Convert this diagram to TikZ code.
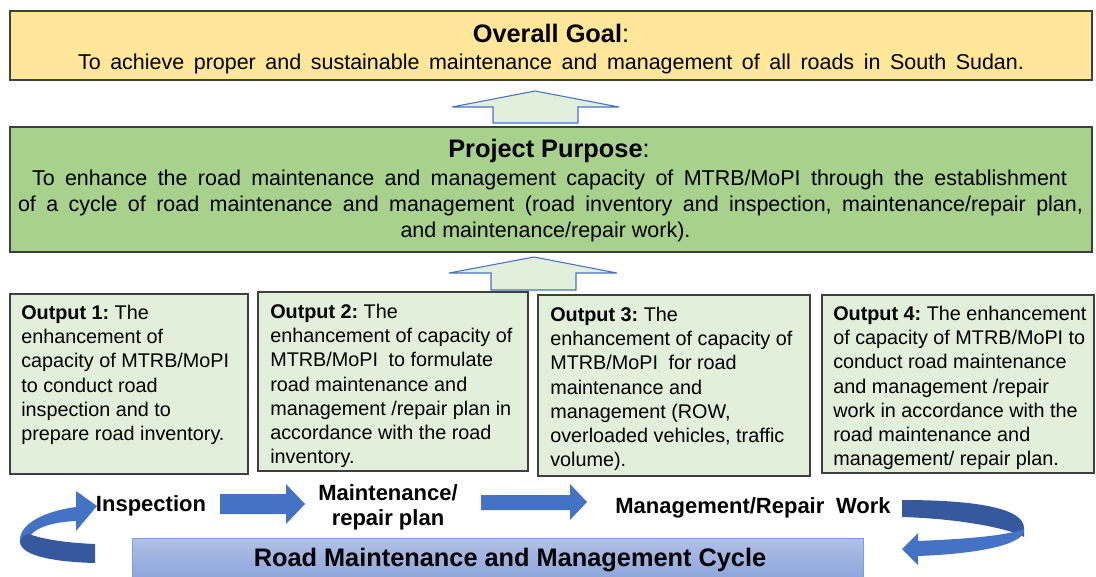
\documentclass[tikz,border=0pt]{standalone}
\usepackage{fontspec}
\setmainfont{Liberation Sans}
\frenchspacing
\definecolor{goalfill}{HTML}{FFE699}
\definecolor{purposefill}{HTML}{A9D18E}
\definecolor{outputfill}{HTML}{E2EFDA}
\definecolor{boxline}{HTML}{3F3F3F}
\definecolor{cycleblue}{HTML}{4472C4}
\definecolor{cycledark}{HTML}{35599C}
\definecolor{bartop}{HTML}{B1C1E7}
\definecolor{barbottom}{HTML}{8BA4DA}
\definecolor{barline}{HTML}{7F9ED8}
\tikzset{
  panel/.style={draw=boxline, line width=1.1pt, inner sep=0pt},
  outtext/.style={anchor=north west, inner sep=0pt, align=left,
    font=\fontsize{14.85pt}{18.2pt}\selectfont},
  bodyline/.style={anchor=base, inner sep=0pt, font=\fontsize{16.1pt}{19pt}\selectfont},
  titleline/.style={anchor=base, inner sep=0pt, font=\fontsize{19pt}{23pt}\selectfont},
  steplabel/.style={anchor=base, inner sep=0pt, align=center,
    font=\fontsize{16.5pt}{18.75pt}\selectfont\bfseries},
  uparrow/.style={fill=outputfill, draw=cycleblue, line width=0.8pt, line join=miter},
  flatarrow/.style={fill=cycleblue},
}
\begin{document}
\frenchspacing
\begin{tikzpicture}[x=0.75pt,y=-0.75pt]
\useasboundingbox (0,0) rectangle (1096,576);

% ---- overall goal ----
\node[panel, fill=goalfill, minimum width=811.5pt, minimum height=51.75pt] (goal) at (551,45.5) {};
\node[titleline] (goaltitle) at (551,42) {\textbf{Overall Goal}:};
\node[bodyline] (goaltext) at (551,69)
  {\makebox[709.5pt][s]{To achieve proper and sustainable maintenance and management of all roads in South Sudan.}};

% ---- arrow from purpose to goal ----
\draw[uparrow] (493,123) -- (493,107) -- (452,107) -- (535,91) -- (619,107) -- (578,107) -- (578,123) -- cycle;

% ---- project purpose ----
\node[panel, fill=purposefill, minimum width=811.5pt, minimum height=93.75pt] (purpose) at (551,189.5) {};
\node[titleline] (purposetitle) at (549,157) {\textbf{Project Purpose}:};
\node[bodyline] (purpose1) at (549.5,185)
  {\makebox[776.25pt][s]{To enhance the road maintenance and management capacity of MTRB/MoPI through the establishment}};
\node[bodyline] (purpose2) at (550.5,211)
  {\makebox[798.75pt][s]{of a cycle of road maintenance and management (road inventory and inspection, maintenance/repair plan,}};
\node[bodyline] (purpose3) at (545.5,237) {and maintenance/repair work).};

% ---- arrow from outputs to purpose ----
\draw[uparrow] (491,290) -- (491,273) -- (449,273) -- (534,257) -- (617,273) -- (576,273) -- (576,290) -- cycle;

% ---- outputs ----
\node[panel, fill=outputfill, minimum width=178.5pt, minimum height=135pt] (out1) at (129,384) {};
\node[panel, fill=outputfill, minimum width=202.5pt, minimum height=134.25pt] (out2) at (393,381.5) {};
\node[panel, fill=outputfill, minimum width=204pt, minimum height=135.75pt] (out3) at (674,385.5) {};
\node[panel, fill=outputfill, minimum width=204pt, minimum height=133.5pt] (out4) at (958,384) {};

\node[outtext] (out1text) at (21,304.6)
  {\textbf{Output 1:} The\\enhancement of\\capacity of MTRB/MoPI\\to conduct road\\inspection and to\\prepare road inventory.};
\node[outtext] (out2text) at (270,303.6)
  {\textbf{Output 2:} The\\enhancement of capacity of\\MTRB/MoPI\hspace{0.25em} to formulate\\road maintenance and\\management /repair plan in\\accordance with the road\\inventory.};
\node[outtext] (out3text) at (550,306.6)
  {\textbf{Output 3:} The\\enhancement of capacity of\\MTRB/MoPI\hspace{0.25em} for road\\maintenance and\\management (ROW,\\overloaded vehicles, traffic\\volume).};
\node[outtext] (out4text) at (833,305.6)
  {\textbf{Output 4:} The enhancement\\of capacity of MTRB/MoPI to\\conduct road maintenance\\and management /repair\\work in accordance with the\\road maintenance and\\management/ repair plan.};

% ---- road maintenance and management cycle ----
\node[draw=barline, line width=0.6pt, top color=bartop, bottom color=barbottom,
      minimum width=548.25pt, minimum height=31.5pt, inner sep=0pt] (cycle) at (497.5,559) {};
\node[titleline] (cycletext) at (510,566) {\textbf{Road Maintenance and Management Cycle}};

\node[steplabel] (inspection) at (151,511) {Inspection};
\node[steplabel] (plan) at (388,525) {Maintenance/\\repair plan};
\node[steplabel] (work) at (753,513) {Management/Repair\hspace{0.25em} Work};

% straight step arrows
\fill[flatarrow] (220,494) -- (286,494) -- (286,484) -- (305,504) -- (286,524) -- (286,514) -- (220,514) -- cycle;
\fill[flatarrow] (481,495) -- (570,495) -- (570,484) -- (587,502) -- (570,520) -- (570,510) -- (481,510) -- cycle;

% curled arrow on the left, leading into the inspection step
\fill[cycleblue] (20,542) .. controls (18,524) and (45,511) .. (76,507) -- (76,491) -- (97,506)
  -- (76,531) -- (76,521) .. controls (52,522) and (32,528) .. (28,540) -- cycle;
\fill[cycledark] (95,544) -- (95,563) .. controls (55,562) and (21,556) .. (20,542)
  .. controls (21,537) and (26,534) .. (29,534) .. controls (45,540) and (70,543) .. (95,544) -- cycle;

% curled arrow on the right, returning to the cycle bar
\fill[cycledark] (902,500) .. controls (975,500) and (1024,508) .. (1024,528) -- (1024,537)
  .. controls (1015,531) and (970,519) .. (902,517) -- cycle;
\fill[cycleblue] (918,541) .. controls (965,539) and (1005,536) .. (1024,529)
  .. controls (1026,545) and (975,554) .. (918,556) -- (918,565) -- (902,549) -- (918,533) -- cycle;
\end{tikzpicture}
\end{document}
